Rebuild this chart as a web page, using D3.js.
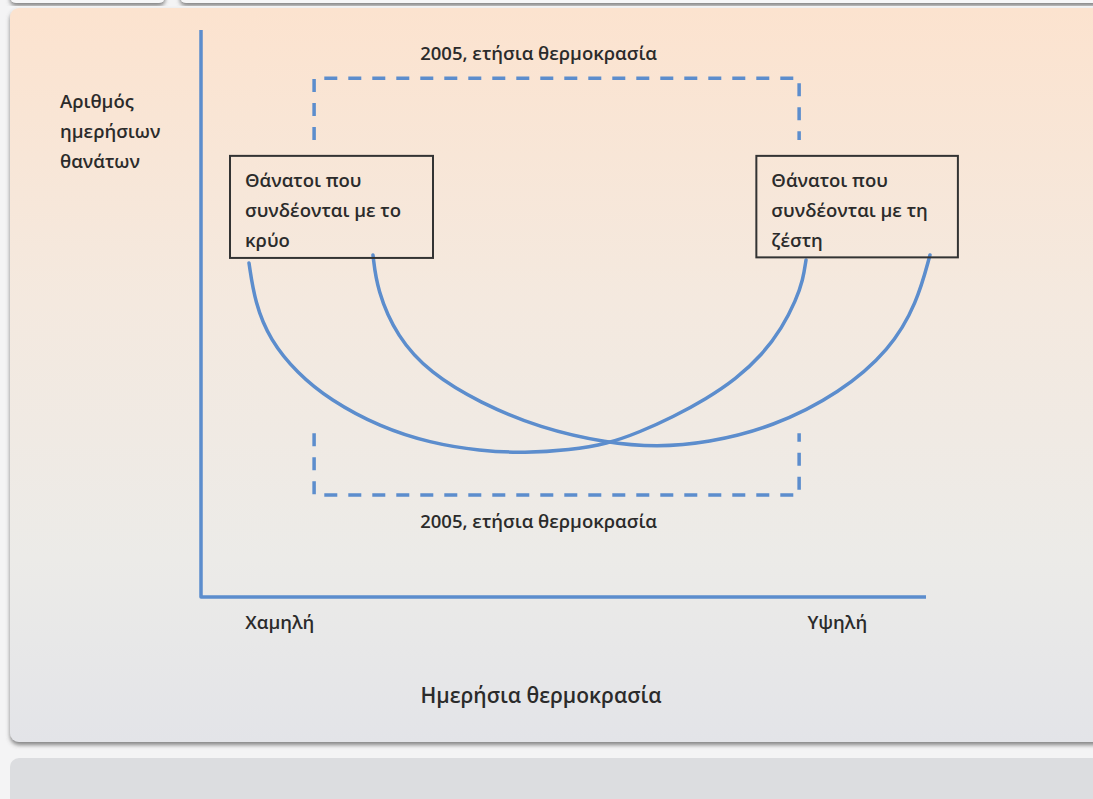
<!DOCTYPE html>
<html>
<head>
<meta charset="utf-8">
<script src="https://cdn.jsdelivr.net/npm/d3@7"></script>
<style>
  html, body { margin: 0; padding: 0; background: #f4f4f5; }
  svg { display: block; }
  text { font-family: "Open Sans", "Noto Sans", sans-serif; font-weight: 600; fill: #2b2b2b; }
</style>
</head>
<body>
<svg id="chart" width="1093" height="799"></svg>
<script>
// ---- data (abstract units: x = daily temperature 0..100, y = daily deaths 0..100) ----
const yTitleLines = ["Αριθμός", "ημερήσιων", "θανάτων"];
const xTitle = "Ημερήσια θερμοκρασία";
const xTickValues = [10.8, 87.7];
const xTickLabels = ["Χαμηλή", "Υψηλή"];

// cold-related deaths curve
const coldCurve = [
  [6.62, 58.91], [7.45, 51.85], [9.52, 45.33], [13.24, 39.51], [17.79, 34.74], [24.69, 29.98],
  [31.59, 27.16], [38.48, 25.75], [44.69, 25.40], [50.90, 25.93], [56.00, 26.98], [60.55, 29.10],
  [65.10, 31.75], [69.66, 34.92], [73.79, 38.45], [77.38, 42.68], [80.14, 47.44], [82.07, 52.38],
  [83.03, 55.91], [83.45, 59.44]
];
// heat-related deaths curve
const heatCurve = [
  [23.72, 60.32], [24.28, 54.14], [27.03, 45.86], [31.59, 39.51], [38.48, 34.22], [46.76, 29.81],
  [56.00, 27.16], [62.90, 26.46], [69.79, 27.16], [78.90, 29.98], [88.14, 35.98], [95.03, 43.56],
  [98.76, 51.85], [100.55, 60.32]
];

// 2005 annual temperature range brackets
const rangeX = [15.6, 82.5];
const topBracketY = [80.6, 91.5];      // [open end, closed end]
const bottomBracketY = [28.9, 18.0];
const rangeLabel = "2005, ετήσια θερμοκρασία";

// annotation boxes: [x0, x1, yTop, yBottom]
const boxes = [
  { extent: [4.0, 32.0, 77.8, 59.8], lines: ["Θάνατοι που", "συνδέονται με το", "κρύο"] },
  { extent: [76.6, 104.4, 77.8, 59.9], lines: ["Θάνατοι που", "συνδέονται με τη", "ζέστη"] }
];

// ---- drawing ----
const svg = d3.select("#chart");

const defs = svg.append("defs");
const grad = defs.append("linearGradient").attr("id", "bg").attr("x1", 0).attr("y1", 0).attr("x2", 0).attr("y2", 1);
[["0%", "#fce3cf"], ["40%", "#f4e9df"], ["75%", "#ecebe8"], ["100%", "#e3e4e8"]]
  .forEach(([o, c]) => grad.append("stop").attr("offset", o).attr("stop-color", c));
const sh = defs.append("filter").attr("id", "shadow").attr("x", "-5%").attr("y", "-5%").attr("width", "110%").attr("height", "115%");
sh.append("feDropShadow").attr("dx", 0).attr("dy", 3).attr("stdDeviation", 2).attr("flood-color", "#555").attr("flood-opacity", 0.7);
const glow = defs.append("filter").attr("id", "soft");
glow.append("feGaussianBlur").attr("stdDeviation", 0.4);

// top remnants of previous panels
svg.append("rect").attr("x", 10).attr("y", -20).attr("width", 155).attr("height", 23).attr("rx", 6)
  .attr("fill", "#f7f7f8").attr("filter", "url(#shadow)");
svg.append("rect").attr("x", 180).attr("y", -20).attr("width", 940).attr("height", 23).attr("rx", 6)
  .attr("fill", "#f7f7f8").attr("filter", "url(#shadow)");

// main panel
svg.append("rect").attr("x", 10).attr("y", 8).attr("width", 1100).attr("height", 734).attr("rx", 9)
  .attr("fill", "url(#bg)").attr("filter", "url(#shadow)");
// bottom panel
svg.append("rect").attr("x", 10).attr("y", 758).attr("width", 1100).attr("height", 60).attr("rx", 9)
  .attr("fill", "#dcdde0");

const x = d3.scaleLinear().domain([0, 100]).range([201, 926]);
const y = d3.scaleLinear().domain([0, 100]).range([597, 30]);

const blue = "#5b8dcd";
const line = d3.line().x(d => x(d[0])).y(d => y(d[1]));

// axes (L-shaped)
svg.append("path")
  .attr("d", line([[0, 100], [0, 0], [100, 0]]))
  .attr("fill", "none").attr("stroke", blue).attr("stroke-width", 3.5)
  .attr("stroke-linejoin", "round").attr("filter", "url(#soft)");

const fs = 18.5;

// x tick labels via axis
const xAxis = d3.axisBottom(x).tickValues(xTickValues).tickSize(0).tickPadding(19)
  .tickFormat((d, i) => xTickLabels[i]);
const gx = svg.append("g").attr("transform", `translate(0,${y(0)})`).call(xAxis);
gx.select(".domain").remove();
gx.selectAll("text").attr("font-size", fs).attr("font-family", null).attr("fill", "#2b2b2b");

// axis titles
svg.append("text").attr("x", 541).attr("y", 703).attr("text-anchor", "middle")
  .attr("font-size", 21).text(xTitle);
svg.append("g").selectAll("text").data(yTitleLines).join("text")
  .attr("x", 60).attr("y", (d, i) => 108 + i * 30).attr("font-size", fs).text(d => d);

// dashed brackets
const dash = "13,11";
const brackets = [topBracketY, bottomBracketY];
svg.append("g").selectAll("path").data(brackets).join("path")
  .attr("d", b => line([[rangeX[0], b[0]], [rangeX[0], b[1]], [rangeX[1], b[1]], [rangeX[1], b[0]]]))
  .attr("fill", "none").attr("stroke", blue).attr("stroke-width", 3.5)
  .attr("stroke-dasharray", dash).attr("filter", "url(#soft)");
const midX = (x(rangeX[0]) + x(rangeX[1])) / 2 - 18;
svg.append("text").attr("x", midX).attr("y", 60).attr("text-anchor", "middle")
  .attr("font-size", fs).text(rangeLabel);
svg.append("text").attr("x", midX).attr("y", 528).attr("text-anchor", "middle")
  .attr("font-size", fs).text(rangeLabel);

// curves
const curveLine = d3.line().x(d => x(d[0])).y(d => y(d[1])).curve(d3.curveBasis);
svg.append("g").selectAll("path").data([coldCurve, heatCurve]).join("path")
  .attr("d", d => curveLine(d))
  .attr("fill", "none").attr("stroke", blue).attr("stroke-width", 3.5)
  .attr("stroke-linecap", "round").attr("filter", "url(#soft)");

// boxes
const bg = svg.append("g").selectAll("g").data(boxes).join("g");
bg.append("rect")
  .attr("x", d => x(d.extent[0])).attr("y", d => y(d.extent[2]))
  .attr("width", d => x(d.extent[1]) - x(d.extent[0]))
  .attr("height", d => y(d.extent[3]) - y(d.extent[2]))
  .attr("fill", "none").attr("stroke", "#333").attr("stroke-width", 2);
bg.each(function(d) {
  d3.select(this).selectAll("text").data(d.lines).join("text")
    .attr("x", x(d.extent[0]) + 15).attr("y", (t, i) => y(d.extent[2]) + 31 + i * 30)
    .attr("font-size", fs).text(t => t);
});
</script>
</body>
</html>
